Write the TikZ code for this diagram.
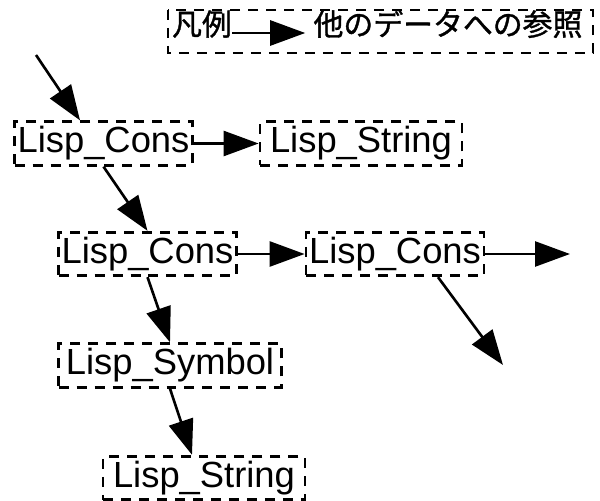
\documentclass[tikz,border=0pt]{standalone}
\usepackage{fontspec}
\setmainfont{Liberation Sans}
\newfontfamily\jpfont[BoldFont={Noto Sans CJK JP}, BoldFeatures={FakeBold=1.2}]{Noto Sans CJK JP}
\usetikzlibrary{arrows.meta}

\begin{document}
\begin{tikzpicture}[x=0.02cm, y=-0.02cm,
    frame/.style={line width=1.6pt, dash pattern=on 0.2cm off 0.16cm},
    obj/.style={frame, draw, inner sep=0pt, minimum height=0.87cm,
      font=\fontsize{20.7}{24}\selectfont},
    cons/.style={obj, minimum width=3.56cm},
    str/.style={obj, minimum width=4.04cm},
    sym/.style={obj, minimum width=4.46cm},
    ref/.style={line width=1.5pt, -{Triangle[length=0.7cm,width=0.5cm]}},
    key/.style={inner sep=0pt, font=\jpfont\bfseries\fontsize{17}{20}\selectfont}]
    \useasboundingbox (0,0) rectangle (600,501);

    \draw[frame] (168,10) rectangle (593,53);
    \node[key] (k) at (202,24) {凡例};
    \node[key] (r) at (448,24) {他のデータへの参照};
    \draw[ref, shorten >=0.16cm] ([yshift=-0.18cm]k.east) -- ([yshift=-0.18cm]r.west);

    \node[cons] (a) at (103.5,143.5) {Lisp\_Cons};
    \node[str]  (b) at (361,143.5)   {Lisp\_String};
    \node[cons] (c) at (147.5,254)   {Lisp\_Cons};
    \node[cons] (d) at (395,254)     {Lisp\_Cons};
    \node[sym]  (e) at (170,365.5)   {Lisp\_Symbol};
    \node[str]  (f) at (204,478)     {Lisp\_String};

    \coordinate (in) at (36,55);
    \coordinate (o1) at (570,254);
    \coordinate (o2) at (503,365);

    \draw[ref] (in) -- ([xshift=-0.47cm]a.north);
    \draw[ref] (a) -- (b);
    \draw[ref] (a.south) -- (c.north);
    \draw[ref] (c) -- (d);
    \draw[ref] (d.east) -- (o1);
    \draw[ref] ([xshift=0.86cm]d.south) -- (o2);
    \draw[ref] (c.south) -- (e.north);
    \draw[ref] (e.south) -- ([xshift=-0.24cm]f.north);
\end{tikzpicture}
\end{document}
